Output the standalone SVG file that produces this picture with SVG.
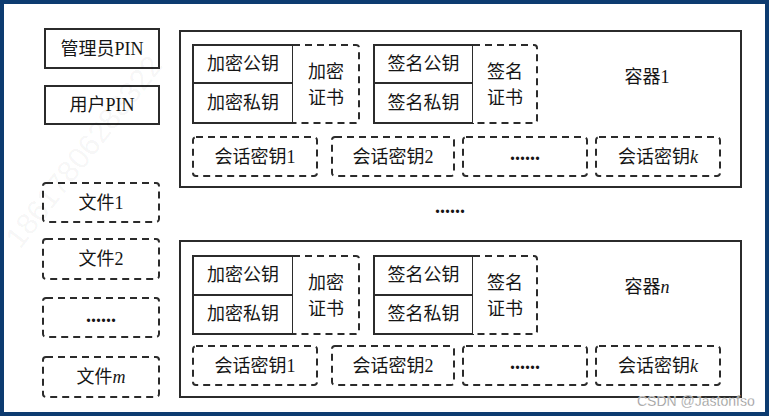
<svg xmlns="http://www.w3.org/2000/svg" width="769" height="416" viewBox="0 0 769 416">
<style>
.frame{fill:#0d3b70}
.bg{fill:#ffffff}
.solid{fill:#ffffff;stroke:#2b2b2b;stroke-width:2}
.dash{fill:#ffffff;stroke:#2b2b2b;stroke-width:2;stroke-dasharray:7 5}
.cont{fill:#ffffff;stroke:#2b2b2b;stroke-width:2}
.t{font-family:"Liberation Serif","Noto Sans CJK SC",serif;font-size:18px;fill:#151515;text-anchor:middle;dominant-baseline:central}
.dots{font-family:"Liberation Serif",serif;font-size:20px;font-weight:bold;fill:#151515;text-anchor:middle;dominant-baseline:central}
.i{font-style:italic}
.wm{font-family:"Liberation Sans",sans-serif;font-size:30px;fill:#000;fill-opacity:0.05}
.csdn{font-family:"Liberation Sans",sans-serif;font-size:14px;fill:#8a8a8a;stroke:#ffffff;stroke-width:0.3}
</style>
<rect class="frame" x="0" y="0" width="769" height="416"/>
<rect class="bg" x="4" y="4" width="761" height="408"/>

<g id="admin-pin"><rect class="solid" x="45" y="29" width="114" height="39"/><text class="t" x="102" y="48.5">管理员PIN</text></g>
<g id="user-pin"><rect class="solid" x="45" y="86" width="114" height="38"/><text class="t" x="102" y="105">用户PIN</text></g>
<g id="file1"><rect class="dash" x="43" y="183" width="116" height="39" rx="3"/><text class="t" x="101" y="202.5">文件1</text></g>
<g id="file2"><rect class="dash" x="43" y="239" width="116" height="40" rx="3"/><text class="t" x="101" y="259">文件2</text></g>
<g id="file-dots"><rect class="dash" x="43" y="298" width="116" height="39" rx="3"/><text class="dots" x="101" y="315">......</text></g>
<g id="filem"><rect class="dash" x="43" y="357" width="116" height="40" rx="3"/><text class="t" x="101" y="377">文件<tspan class="i">m</tspan></text></g>

<g id="container1">
<rect class="cont" x="180" y="31" width="561" height="156"/>
<text class="t" x="647" y="77">容器1</text>
</g>
<g id="c1-enc-pub"><rect class="solid" x="193" y="45" width="100" height="38"/><text class="t" x="243" y="64">加密公钥</text></g>
<g id="c1-enc-priv"><rect class="solid" x="193" y="83" width="100" height="40"/><text class="t" x="243" y="103">加密私钥</text></g>
<g id="c1-enc-cert"><path class="dash" d="M293 45 H356 Q359 45 359 48 V120 Q359 123 356 123 H293" fill="none"/><text class="t" x="326" y="72">加密</text><text class="t" x="326" y="98">证书</text></g>
<g id="c1-sig-pub"><rect class="solid" x="374" y="45" width="99" height="38"/><text class="t" x="423.5" y="64">签名公钥</text></g>
<g id="c1-sig-priv"><rect class="solid" x="374" y="83" width="99" height="40"/><text class="t" x="423.5" y="103">签名私钥</text></g>
<g id="c1-sig-cert"><path class="dash" d="M473 45 H534 Q537 45 537 48 V120 Q537 123 534 123 H473" fill="none"/><text class="t" x="505" y="72">签名</text><text class="t" x="505" y="98">证书</text></g>
<g id="c1-sk1"><rect class="dash" x="193" y="137" width="124" height="39" rx="3"/><text class="t" x="255" y="156.5">会话密钥1</text></g>
<g id="c1-sk2"><rect class="dash" x="332" y="137" width="122" height="39" rx="3"/><text class="t" x="393" y="156.5">会话密钥2</text></g>
<g id="c1-skdots"><rect class="dash" x="463" y="137" width="124" height="39" rx="3"/><text class="dots" x="525" y="153">......</text></g>
<g id="c1-skk"><rect class="dash" x="596" y="137" width="124" height="39" rx="3"/><text class="t" x="658" y="156.5">会话密钥<tspan class="i">k</tspan></text></g>

<g id="mid-dots"><text class="dots" x="450" y="206">......</text></g>

<g id="containern">
<rect class="cont" x="180" y="241" width="561" height="156"/>
<text class="t" x="647" y="287">容器<tspan class="i">n</tspan></text>
</g>
<g id="cn-enc-pub"><rect class="solid" x="193" y="256" width="100" height="39"/><text class="t" x="243" y="275">加密公钥</text></g>
<g id="cn-enc-priv"><rect class="solid" x="193" y="295" width="100" height="39"/><text class="t" x="243" y="314">加密私钥</text></g>
<g id="cn-enc-cert"><path class="dash" d="M293 256 H356 Q359 256 359 259 V331 Q359 334 356 334 H293" fill="none"/><text class="t" x="326" y="283">加密</text><text class="t" x="326" y="309">证书</text></g>
<g id="cn-sig-pub"><rect class="solid" x="374" y="256" width="99" height="39"/><text class="t" x="423.5" y="275">签名公钥</text></g>
<g id="cn-sig-priv"><rect class="solid" x="374" y="295" width="99" height="39"/><text class="t" x="423.5" y="314">签名私钥</text></g>
<g id="cn-sig-cert"><path class="dash" d="M473 256 H534 Q537 256 537 259 V331 Q537 334 534 334 H473" fill="none"/><text class="t" x="505" y="283">签名</text><text class="t" x="505" y="309">证书</text></g>
<g id="cn-sk1"><rect class="dash" x="193" y="346" width="124" height="39" rx="3"/><text class="t" x="255" y="365.5">会话密钥1</text></g>
<g id="cn-sk2"><rect class="dash" x="332" y="346" width="122" height="39" rx="3"/><text class="t" x="393" y="365.5">会话密钥2</text></g>
<g id="cn-skdots"><rect class="dash" x="463" y="346" width="124" height="39" rx="3"/><text class="dots" x="525" y="362">......</text></g>
<g id="cn-skk"><rect class="dash" x="596" y="346" width="124" height="39" rx="3"/><text class="t" x="658" y="365.5">会话密钥<tspan class="i">k</tspan></text></g>

<g id="connectors"></g>

<text class="wm" x="20" y="250" transform="rotate(-52 20 250)">18617806288322</text>
<text class="csdn" x="637" y="406">CSDN @Jastonfso</text>
</svg>
